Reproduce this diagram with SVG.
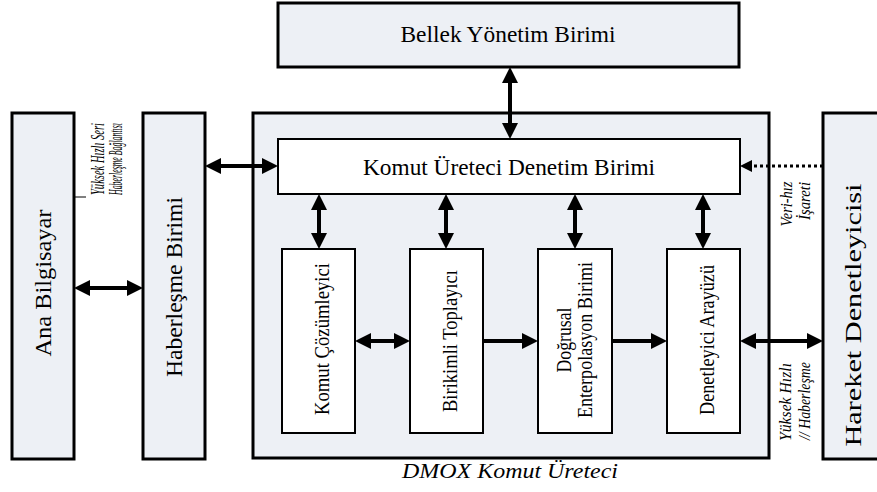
<svg xmlns="http://www.w3.org/2000/svg" width="877" height="492" viewBox="0 0 877 492" font-family="Liberation Serif">
<style>
.gray{fill:#EDF0F5;stroke:#000;stroke-width:3}
.white{fill:#fff;stroke:#000;stroke-width:2}
.it{font-style:italic}
.arr{stroke:#000;stroke-width:4;fill:none}
.dot{stroke:#000;stroke-width:3;stroke-dasharray:3 3;fill:none}
</style>
<defs>
<marker id="ah" markerUnits="userSpaceOnUse" markerWidth="16" markerHeight="16" refX="0" refY="8" orient="auto-start-reverse" viewBox="0 0 16 16">
<path d="M0,0 L16,8 L0,16 z" fill="#000"/>
</marker>
<marker id="ahs" markerUnits="userSpaceOnUse" markerWidth="12" markerHeight="12" refX="0" refY="6" orient="auto" viewBox="0 0 12 12">
<path d="M0,0 L12,6 L0,12 z" fill="#000"/>
</marker>
</defs>
<rect width="877" height="492" fill="#fff"/>

<g id="dmox">
<rect class="gray" x="253" y="113" width="516" height="345"/>
<text class="it" x="510" y="478" font-size="20" text-anchor="middle" textLength="216" lengthAdjust="spacingAndGlyphs">DMOX Komut Üreteci</text>
</g>

<g id="bellek">
<rect class="gray" x="278" y="3" width="461" height="64"/>
<text x="508" y="42" font-size="23" text-anchor="middle" textLength="215" lengthAdjust="spacingAndGlyphs">Bellek Yönetim Birimi</text>
</g>

<g id="komut-uretici">
<rect class="white" x="278" y="139" width="462" height="55"/>
<text x="509" y="175" font-size="23" text-anchor="middle" textLength="292" lengthAdjust="spacingAndGlyphs">Komut Üreteci Denetim Birimi</text>
</g>

<g id="ana">
<rect class="gray" x="12" y="113" width="62" height="346"/>
<text transform="translate(51,283) rotate(-90)" font-size="24" text-anchor="middle" textLength="147" lengthAdjust="spacingAndGlyphs">Ana Bilgisayar</text>
</g>

<g id="haberlesme">
<rect class="gray" x="143" y="113" width="62" height="346"/>
<text transform="translate(182,287) rotate(-90)" font-size="24" text-anchor="middle" textLength="180" lengthAdjust="spacingAndGlyphs">Haberleşme Birimi</text>
</g>

<g id="hareket">
<rect class="gray" x="823" y="113" width="60" height="346"/>
<text transform="translate(861,315) rotate(-90)" font-size="24" text-anchor="middle" textLength="263" lengthAdjust="spacingAndGlyphs">Hareket Denetleyicisi</text>
</g>

<g id="cozumleyici">
<rect class="white" x="282" y="249" width="73" height="184"/>
<text transform="translate(329,339) rotate(-90)" font-size="20" text-anchor="middle" textLength="152" lengthAdjust="spacingAndGlyphs">Komut Çözümleyici</text>
</g>

<g id="toplayici">
<rect class="white" x="410" y="249" width="73" height="184"/>
<text transform="translate(457,341) rotate(-90)" font-size="20" text-anchor="middle" textLength="142" lengthAdjust="spacingAndGlyphs">Birikimli Toplayıcı</text>
</g>

<g id="enterpolasyon">
<rect class="white" x="538" y="249" width="74" height="184"/>
<text transform="translate(571,340) rotate(-90)" font-size="20" text-anchor="middle" textLength="65" lengthAdjust="spacingAndGlyphs">Doğrusal</text>
<text transform="translate(592,340) rotate(-90)" font-size="20" text-anchor="middle" textLength="156" lengthAdjust="spacingAndGlyphs">Enterpolasyon Birimi</text>
</g>

<g id="arayuz">
<rect class="white" x="667" y="249" width="73" height="184"/>
<text transform="translate(714,340) rotate(-90)" font-size="20" text-anchor="middle" textLength="150" lengthAdjust="spacingAndGlyphs">Denetleyici Arayüzü</text>
</g>

<g id="connectors">
<line class="arr" x1="510" y1="83" x2="510" y2="123" marker-start="url(#ah)" marker-end="url(#ah)"/>
<line class="arr" x1="221" y1="166" x2="262" y2="166" marker-start="url(#ah)" marker-end="url(#ah)"/>
<line class="arr" x1="90" y1="288" x2="127" y2="288" marker-start="url(#ah)" marker-end="url(#ah)"/>
<line class="arr" x1="319" y1="210" x2="319" y2="233" marker-start="url(#ah)" marker-end="url(#ah)"/>
<line class="arr" x1="446" y1="210" x2="446" y2="233" marker-start="url(#ah)" marker-end="url(#ah)"/>
<line class="arr" x1="575" y1="210" x2="575" y2="233" marker-start="url(#ah)" marker-end="url(#ah)"/>
<line class="arr" x1="703" y1="210" x2="703" y2="233" marker-start="url(#ah)" marker-end="url(#ah)"/>
<line class="arr" x1="371" y1="341" x2="394" y2="341" marker-start="url(#ah)" marker-end="url(#ah)"/>
<line class="arr" x1="483" y1="341" x2="522" y2="341" marker-end="url(#ah)"/>
<line class="arr" x1="612" y1="341" x2="651" y2="341" marker-end="url(#ah)"/>
<line class="arr" x1="756" y1="341" x2="807" y2="341" marker-start="url(#ah)" marker-end="url(#ah)"/>
<line class="dot" x1="823" y1="166" x2="752" y2="166" marker-end="url(#ahs)"/>
<line x1="74" y1="197" x2="86" y2="197" stroke="#000" stroke-width="1"/>
</g>

<g id="labels">
<text class="it" transform="translate(104,159) rotate(-90)" font-size="19" text-anchor="middle" textLength="72" lengthAdjust="spacingAndGlyphs">Yüksek Hızlı Seri</text>
<text class="it" transform="translate(122,159) rotate(-90)" font-size="19" text-anchor="middle" textLength="72" lengthAdjust="spacingAndGlyphs">Haberleşme  Bağlantısı</text>
<text class="it" transform="translate(792,204) rotate(-90)" font-size="17" text-anchor="middle" textLength="45" lengthAdjust="spacingAndGlyphs">Veri-hız</text>
<text class="it" transform="translate(810,201) rotate(-90)" font-size="17" text-anchor="middle" textLength="38" lengthAdjust="spacingAndGlyphs">İşareti</text>
<text class="it" transform="translate(791,402) rotate(-90)" font-size="17" text-anchor="middle" textLength="78" lengthAdjust="spacingAndGlyphs">Yüksek Hızlı</text>
<text class="it" transform="translate(810,401) rotate(-90)" font-size="17" text-anchor="middle" textLength="78" lengthAdjust="spacingAndGlyphs">// Haberleşme</text>
</g>
</svg>
